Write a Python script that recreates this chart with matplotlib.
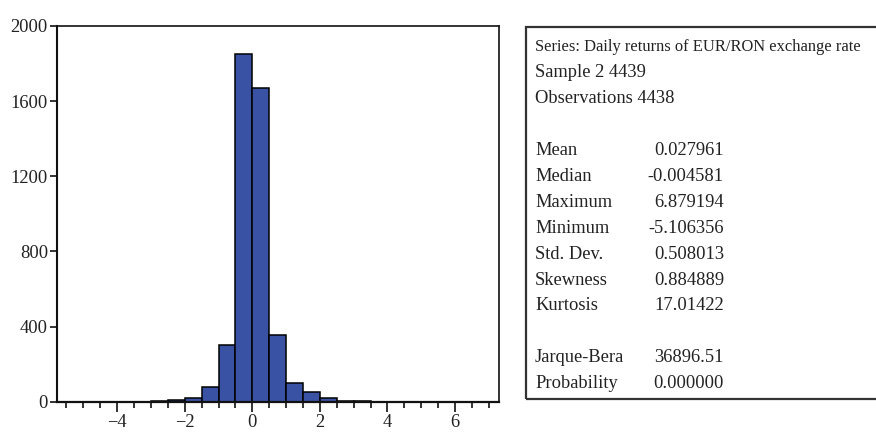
import numpy as np
import matplotlib
matplotlib.use('Agg')
import matplotlib.pyplot as plt
from matplotlib.patches import Rectangle

plt.rcParams['font.family'] = ['Liberation Serif', 'DejaVu Serif']

# histogram of daily returns, bins of width 0.5 starting at -5.5
bin_left = np.arange(-5.5, 7.0, 0.5)
counts = [1, 0, 0, 0, 1, 2, 8, 20, 78, 300, 1850, 1670, 355,
          100, 50, 18, 3, 2, 1, 1, 0, 0, 0, 0, 1]

stat_names = ['Mean', 'Median', 'Maximum', 'Minimum', 'Std. Dev.',
              'Skewness', 'Kurtosis']
stat_values = ['0.027961', '-0.004581', '6.879194', '-5.106356',
               '0.508013', '0.884889', '17.01422']
test_names = ['Jarque-Bera', 'Probability']
test_values = ['36896.51', '0.000000']
header = ['Series: Daily returns of EUR/RON exchange rate',
          'Sample 2 4439', 'Observations 4438']

W, H = 876, 432
fig = plt.figure(figsize=(W / 100, H / 100), dpi=100)
ax = fig.add_axes([57 / W, 1 - 401.7 / H, (499 - 57) / W, (401.7 - 26) / H])

ax.bar(bin_left, counts, width=0.5, align='edge', color='#3a52a3',
       edgecolor='black', linewidth=1.1)

ax.set_xlim(-5.78, 7.3)
ax.set_ylim(0, 2000)
ax.set_yticks(np.arange(0, 2001, 400))
ax.set_xticks(np.arange(-4, 7, 2))
ax.set_xticks(np.arange(-5.5, 7.3, 0.5), minor=True)

txt = '#222222'
ax.tick_params(axis='both', which='both', direction='out', colors='#111111',
               labelcolor=txt, labelsize=13.3, width=1.2)
ax.tick_params(axis='x', which='major', length=7, pad=2)
ax.tick_params(axis='x', which='minor', length=4)
ax.tick_params(axis='y', which='major', length=5, pad=1.5)
for s in ax.spines.values():
    s.set_linewidth(1.2)
    s.set_color('#111111')
ax.spines['left'].set_linewidth(1.5)
ax.spines['bottom'].set_linewidth(1.6)

# statistics box
box = Rectangle((526 / W, 1 - 399 / H), (880 - 526) / W, (399 - 27) / H,
                transform=fig.transFigure, fill=False, edgecolor='#333333',
                linewidth=1.6, clip_on=False)
fig.patches.append(box)

def row_y(i):
    return 1 - (47 + 25.9 * i) / H

fs = 13.3
for i, t in enumerate(header):
    # the series line is squeezed in the original, so it gets a smaller size
    fig.text(535 / W, row_y(i), t, fontsize=11.9 if i == 0 else fs,
             color=txt, va='center')
for i, (n, v) in enumerate(zip(stat_names, stat_values)):
    fig.text(535 / W, row_y(4 + i), n, fontsize=fs, color=txt, va='center')
    fig.text(724 / W, row_y(4 + i), v, fontsize=fs, color=txt, va='center',
             ha='right')
for i, (n, v) in enumerate(zip(test_names, test_values)):
    fig.text(535 / W, row_y(12 + i), n, fontsize=fs, color=txt, va='center')
    fig.text(724 / W, row_y(12 + i), v, fontsize=fs, color=txt, va='center',
             ha='right')

fig.savefig('out.png', dpi=100)
